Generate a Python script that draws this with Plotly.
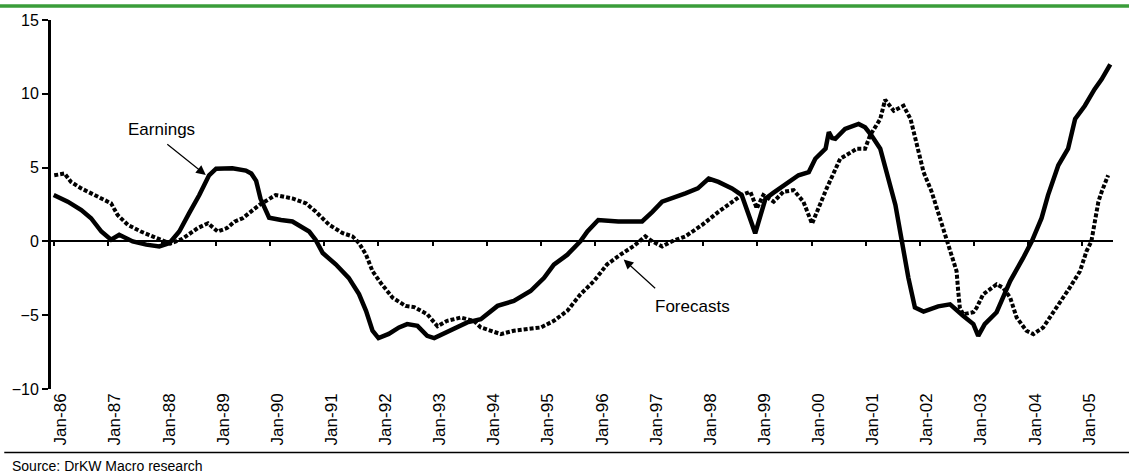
import plotly.graph_objects as go

# ---- data (decimal years, % values) ----
earn_x = [1986.00, 1986.26, 1986.51, 1986.69, 1986.88, 1987.06, 1987.21, 1987.46, 1987.71, 1987.95,
          1988.14, 1988.32, 1988.50, 1988.69, 1988.87, 1989.00, 1989.30, 1989.55, 1989.65, 1989.74,
          1989.82, 1989.92, 1989.98, 1990.20, 1990.41, 1990.72, 1990.84, 1990.97, 1991.21, 1991.45,
          1991.64, 1991.77, 1991.89, 1992.00, 1992.19, 1992.38, 1992.53, 1992.72, 1992.90, 1993.03,
          1993.27, 1993.64, 1993.89, 1994.07, 1994.20, 1994.50, 1994.81, 1995.06, 1995.24, 1995.49,
          1995.73, 1995.86, 1996.06, 1996.43, 1996.87, 1997.06, 1997.24, 1997.67, 1997.90, 1998.10,
          1998.28, 1998.53, 1998.71, 1998.96, 1999.15, 1999.30, 1999.50, 1999.76, 1999.95, 2000.07,
          2000.26, 2000.32, 2000.38, 2000.44, 2000.62, 2000.87, 2000.99, 2001.11, 2001.27, 2001.42,
          2001.55, 2001.67, 2001.79, 2001.91, 2002.07, 2002.34, 2002.56, 2002.80, 2002.99, 2003.08,
          2003.20, 2003.42, 2003.67, 2003.91, 2004.07, 2004.25, 2004.37, 2004.56, 2004.74, 2004.87,
          2005.05, 2005.23, 2005.36, 2005.52]
earn_y = [3.14, 2.69, 2.13, 1.57, 0.67, 0.11, 0.45, 0.00, -0.22, -0.34,
          -0.11, 0.67, 1.90, 3.14, 4.48, 4.93, 4.95, 4.80, 4.60, 4.10,
          2.90, 2.00, 1.60, 1.45, 1.35, 0.67, 0.10, -0.79, -1.55, -2.47,
          -3.57, -4.70, -6.05, -6.55, -6.27, -5.83, -5.60, -5.72, -6.40, -6.55,
          -6.16, -5.49, -5.27, -4.70, -4.37, -4.03, -3.36, -2.47, -1.57, -0.90,
          0.00, 0.67, 1.45, 1.35, 1.35, 2.00, 2.69, 3.25, 3.59, 4.26,
          4.03, 3.59, 3.14, 0.55, 2.90, 3.30, 3.80, 4.48, 4.70, 5.60,
          6.28, 7.40, 7.00, 6.95, 7.62, 7.96, 7.73, 7.17, 6.28, 4.26,
          2.47, 0.00, -2.47, -4.48, -4.75, -4.40, -4.26, -5.04, -5.60, -6.40,
          -5.60, -4.80, -2.69, -1.12, 0.00, 1.57, 3.14, 5.16, 6.28, 8.29,
          9.19, 10.31, 10.98, 12.00]

fcst_x = [1986.01, 1986.20, 1986.32, 1986.51, 1986.88, 1987.06, 1987.18, 1987.37, 1987.61, 1987.92,
          1988.15, 1988.38, 1988.57, 1988.66, 1988.85, 1989.03, 1989.20, 1989.34, 1989.49, 1989.80,
          1990.10, 1990.41, 1990.66, 1990.84, 1991.09, 1991.34, 1991.52, 1991.64, 1991.77, 1991.89,
          1992.04, 1992.26, 1992.50, 1992.66, 1992.90, 1993.09, 1993.27, 1993.52, 1993.76, 1993.89,
          1994.26, 1994.50, 1995.00, 1995.24, 1995.49, 1995.73, 1995.98, 1996.22, 1996.47, 1996.72,
          1996.93, 1997.06, 1997.24, 1997.42, 1997.67, 1997.98, 1998.28, 1998.53, 1998.71, 1998.87,
          1998.99, 1999.11, 1999.30, 1999.48, 1999.67, 1999.85, 2000.01, 2000.28, 2000.53, 2000.84,
          2000.99, 2001.08, 2001.27, 2001.36, 2001.52, 2001.70, 2001.83, 2001.95, 2002.07, 2002.22,
          2002.35, 2002.50, 2002.62, 2002.68, 2002.71, 2002.74, 2002.80, 2002.99, 2003.05, 2003.17,
          2003.42, 2003.54, 2003.67, 2003.79, 2003.97, 2004.10, 2004.28, 2004.53, 2004.77, 2004.96,
          2005.08, 2005.17, 2005.30, 2005.36, 2005.48]
fcst_y = [4.48, 4.60, 4.03, 3.59, 2.91, 2.58, 1.79, 1.12, 0.67, 0.22,
          -0.15, 0.18, 0.67, 0.90, 1.23, 0.67, 0.90, 1.34, 1.57, 2.47,
          3.14, 2.91, 2.58, 2.02, 1.12, 0.56, 0.34, -0.11, -0.90, -2.02,
          -2.80, -3.81, -4.37, -4.45, -4.93, -5.75, -5.38, -5.16, -5.38, -5.83,
          -6.28, -6.05, -5.83, -5.38, -4.70, -3.59, -2.69, -1.57, -0.90, -0.30,
          0.34, 0.00, -0.34, 0.00, 0.34, 1.12, 2.00, 2.69, 3.14, 3.36,
          2.24, 3.14, 2.69, 3.36, 3.47, 2.69, 1.20, 3.59, 5.60, 6.28,
          6.28, 7.17, 8.29, 9.60, 8.85, 9.19, 8.29, 6.50, 4.70, 3.36,
          1.79, 0.00, -1.34, -2.02, -3.36, -4.48, -4.93, -4.80, -4.50, -3.59,
          -2.91, -3.14, -3.81, -5.16, -6.05, -6.28, -5.83, -4.48, -3.14, -2.02,
          -0.67, 0.00, 2.69, 3.36, 4.48]

years = list(range(1986, 2006))
year_labels = ["Jan-%02d" % (y % 100) for y in years]

FONT = "Liberation Sans, Arial, sans-serif"

fig = go.Figure()
fig.add_trace(go.Scatter(x=earn_x, y=earn_y, mode="lines", name="Earnings",
                         line=dict(color="black", width=4.5), showlegend=False))
fig.add_trace(go.Scatter(x=fcst_x, y=fcst_y, mode="lines", name="Forecasts",
                         line=dict(color="black", width=4, dash="4px,2px"), showlegend=False))
# invisible trace to activate the tick axis on the zero line
fig.add_trace(go.Scatter(x=[1986, 2005], y=[0, 0], xaxis="x2", mode="lines",
                         line=dict(width=0), hoverinfo="skip", showlegend=False))

fig.update_layout(
    width=1129, height=474,
    margin=dict(l=50, r=16, t=17, b=85),
    paper_bgcolor="white", plot_bgcolor="white",
    font=dict(family=FONT, color="black"),
    xaxis=dict(range=[1985.95, 2005.57], showgrid=False, zeroline=False, showline=False,
               tickmode="array", tickvals=[y + 0.13 for y in years], ticktext=year_labels,
               tickangle=-90, ticks="", tickfont=dict(size=17, family=FONT, color="black")),
    xaxis2=dict(range=[1985.95, 2005.57], overlaying="x", anchor="free", position=0.4,
                side="bottom", showgrid=False, zeroline=False, showline=False,
                tickmode="array", tickvals=years, showticklabels=False,
                ticks="outside", ticklen=4, tickwidth=2, tickcolor="black"),
    yaxis=dict(range=[-10, 15], tickvals=[-10, -5, 0, 5, 10, 15], showgrid=False,
               zeroline=True, zerolinecolor="black", zerolinewidth=2,
               showline=True, linecolor="black", linewidth=3,
               ticks="outside", ticklen=6, tickwidth=2, tickcolor="black",
               tickfont=dict(size=16, family=FONT, color="black")),
    shapes=[
        dict(type="line", xref="paper", yref="paper", x0=-0.05, x1=1.02, y0=1.038, y1=1.038,
             line=dict(color="#3a9d3a", width=3.5)),
        dict(type="line", xref="paper", yref="paper", x0=-0.044, x1=1.02, y0=-0.172, y1=-0.172,
             line=dict(color="black", width=1.5)),
    ],
    annotations=[
        dict(text="Earnings", x=1988.0, y=7.6, xref="x", yref="y", showarrow=False,
             font=dict(size=17, family=FONT, color="black")),
        dict(text="", x=1988.81, y=4.5, xref="x", yref="y", showarrow=True,
             ax=-40, ay=-32, arrowhead=2, arrowsize=1.6, arrowwidth=1.2, arrowcolor="black"),
        dict(text="Forecasts", x=1997.8, y=-4.44, xref="x", yref="y", showarrow=False,
             font=dict(size=17, family=FONT, color="black")),
        dict(text="", x=1996.53, y=-1.23, xref="x", yref="y", showarrow=True,
             ax=33, ay=30, arrowhead=2, arrowsize=1.6, arrowwidth=1.2, arrowcolor="black"),
        dict(text="Source: DrKW Macro research", xref="paper", yref="paper",
             x=-0.039, y=-0.21, xanchor="left", yanchor="middle", showarrow=False,
             font=dict(size=14, family=FONT, color="black")),
    ],
)

fig.write_html("out.html", config={"displayModeBar": False},
               post_script="document.body.style.margin='0';document.body.style.overflow='hidden';")
